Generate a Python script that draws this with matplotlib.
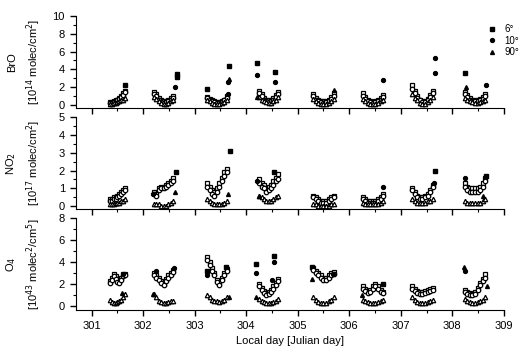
import matplotlib
matplotlib.use("Agg")
import matplotlib.pyplot as plt
from matplotlib.ticker import MultipleLocator

# sample times (local day) within each day's measurement window
t301 = [301.36, 301.40, 301.43, 301.47, 301.50, 301.54, 301.57, 301.61, 301.64]
t302 = [302.22, 302.26, 302.30, 302.35, 302.40, 302.44, 302.49, 302.54, 302.58]
t303 = [303.24, 303.29, 303.33, 303.38, 303.43, 303.48, 303.53, 303.58, 303.62]
t304 = [304.25, 304.30, 304.34, 304.39, 304.44, 304.48, 304.53, 304.58, 304.62]
t305 = [305.30, 305.35, 305.40, 305.45, 305.50, 305.55, 305.60, 305.65, 305.70]
t306 = [306.26, 306.31, 306.36, 306.41, 306.46, 306.51, 306.56, 306.61, 306.66]
t307 = [307.22, 307.27, 307.32, 307.37, 307.42, 307.47, 307.52, 307.57, 307.62]
t308 = [308.24, 308.29, 308.34, 308.39, 308.44, 308.49, 308.54, 308.59, 308.64]
times = t301 + t302 + t303 + t304 + t305 + t306 + t307 + t308

# BrO [1e14 molec/cm2]
bro_6 = [0.3, 0.3, 0.4, 0.5, 0.6, 0.8, 1.0, 1.3, 1.6,
         1.4, 1.2, 0.8, 0.5, 0.4, 0.4, 0.5, 0.8, 1.0,
         0.9, 0.7, 0.5, 0.4, 0.3, 0.3, 0.4, 0.6, 1.0,
         1.6, 1.2, 0.8, 0.6, 0.5, 0.6, 0.8, 1.1, 1.5,
         1.2, 0.8, 0.6, 0.4, 0.4, 0.4, 0.6, 0.9, 1.3,
         1.3, 0.9, 0.6, 0.4, 0.3, 0.4, 0.5, 0.8, 1.1,
         2.2, 1.6, 1.0, 0.6, 0.4, 0.4, 0.7, 1.1, 1.6,
         1.5, 1.1, 0.8, 0.6, 0.5, 0.6, 0.7, 0.9, 1.2]
bro_10 = [0.2, 0.2, 0.3, 0.4, 0.5, 0.7, 0.9, 1.1, 1.4,
          1.2, 1.0, 0.6, 0.3, 0.2, 0.3, 0.4, 0.6, 0.8,
          0.8, 0.6, 0.4, 0.3, 0.2, 0.2, 0.3, 0.5, 0.8,
          1.3, 1.0, 0.6, 0.4, 0.3, 0.4, 0.6, 0.9, 1.2,
          1.0, 0.6, 0.4, 0.3, 0.2, 0.3, 0.4, 0.7, 1.0,
          1.0, 0.7, 0.4, 0.3, 0.2, 0.3, 0.4, 0.6, 0.9,
          1.8, 1.3, 0.8, 0.5, 0.3, 0.3, 0.5, 0.9, 1.3,
          1.2, 0.9, 0.6, 0.4, 0.4, 0.4, 0.5, 0.7, 1.0]
bro_90 = [0.1, 0.1, 0.2, 0.2, 0.3, 0.4, 0.5, 0.6, 0.8,
          0.9, 0.7, 0.4, 0.2, 0.1, 0.1, 0.2, 0.4, 0.6,
          0.6, 0.4, 0.2, 0.1, 0.1, 0.1, 0.2, 0.3, 0.5,
          0.9, 0.6, 0.4, 0.3, 0.2, 0.2, 0.4, 0.6, 0.9,
          0.7, 0.4, 0.2, 0.1, 0.1, 0.1, 0.2, 0.4, 0.7,
          0.7, 0.4, 0.2, 0.1, 0.1, 0.1, 0.2, 0.4, 0.6,
          1.2, 0.8, 0.5, 0.2, 0.1, 0.1, 0.3, 0.5, 0.9,
          0.8, 0.6, 0.4, 0.3, 0.2, 0.2, 0.3, 0.4, 0.6]
bro_6_x_t = [301.65, 302.65, 302.65, 303.24, 303.66, 304.22, 304.56, 308.24]
bro_6_x_v = [2.2, 3.5, 3.1, 1.8, 4.4, 4.7, 3.7, 3.6]
bro_10_x_t = [302.62, 303.64, 303.65, 304.22, 304.56, 306.66, 307.66, 307.66, 308.66]
bro_10_x_v = [2.0, 1.2, 2.6, 3.4, 2.6, 2.8, 3.6, 5.3, 2.2]
bro_90_x_t = [303.66, 304.22, 305.70, 308.26]
bro_90_x_v = [2.9, 0.9, 1.7, 2.0]

# NO2 [1e17 molec/cm2]
no2_6 = [0.4, 0.4, 0.5, 0.5, 0.6, 0.7, 0.8, 0.9, 1.0,
         0.8, 0.7, 1.0, 1.1, 1.1, 1.2, 1.3, 1.4, 1.6,
         1.3, 1.1, 0.9, 0.8, 1.0, 1.3, 1.6, 1.9, 2.1,
         1.5, 1.3, 1.2, 1.0, 1.1, 1.2, 1.4, 1.6, 1.8,
         0.6, 0.5, 0.4, 0.3, 0.3, 0.3, 0.4, 0.5, 0.6,
         0.5, 0.4, 0.3, 0.3, 0.3, 0.3, 0.4, 0.5, 0.7,
         1.0, 0.8, 0.6, 0.5, 0.5, 0.6, 0.7, 0.9, 1.2,
         1.3, 1.1, 1.0, 1.0, 1.0, 1.0, 1.1, 1.3, 1.6]
no2_10 = [0.3, 0.3, 0.4, 0.4, 0.5, 0.6, 0.7, 0.8, 0.9,
          0.7, 0.6, 0.9, 1.0, 1.0, 1.1, 1.2, 1.3, 1.4,
          1.1, 0.9, 0.7, 0.6, 0.8, 1.1, 1.4, 1.7, 1.9,
          1.3, 1.1, 1.0, 0.8, 0.9, 1.0, 1.2, 1.4, 1.5,
          0.5, 0.4, 0.3, 0.2, 0.2, 0.2, 0.3, 0.4, 0.5,
          0.4, 0.3, 0.2, 0.2, 0.2, 0.2, 0.3, 0.4, 0.6,
          0.9, 0.7, 0.5, 0.4, 0.4, 0.5, 0.6, 0.8, 1.1,
          1.1, 0.9, 0.8, 0.8, 0.8, 0.8, 0.9, 1.1, 1.4]
no2_90 = [0.1, 0.1, 0.1, 0.2, 0.2, 0.2, 0.3, 0.3, 0.4,
          0.1, 0.1, 0.1, 0.0, 0.0, 0.0, 0.1, 0.2, 0.3,
          0.4, 0.3, 0.2, 0.1, 0.1, 0.1, 0.1, 0.2, 0.3,
          0.6, 0.5, 0.4, 0.3, 0.3, 0.3, 0.4, 0.5, 0.6,
          0.1, 0.1, 0.0, 0.0, 0.0, 0.0, 0.0, 0.1, 0.1,
          0.2, 0.1, 0.1, 0.1, 0.1, 0.1, 0.1, 0.2, 0.3,
          0.4, 0.3, 0.2, 0.2, 0.2, 0.2, 0.3, 0.3, 0.4,
          0.3, 0.2, 0.2, 0.2, 0.2, 0.2, 0.2, 0.3, 0.4]
no2_6_x_t = [302.63, 303.68, 304.55, 307.66, 308.65]
no2_6_x_v = [1.9, 3.1, 1.9, 2.0, 1.7]
no2_10_x_t = [302.20, 304.22, 306.65, 307.64, 308.24]
no2_10_x_v = [0.7, 1.4, 1.1, 1.3, 1.6]
no2_90_x_t = [302.62, 303.65, 304.25, 308.60]
no2_90_x_v = [0.8, 0.7, 0.6, 0.6]

# O4 [1e43 molec2/cm5]
o4_6 = [2.3, 2.6, 2.9, 2.7, 2.4, 2.3, 2.6, 2.9, 2.9,
        3.0, 2.8, 2.6, 2.3, 2.0, 2.5, 2.8, 3.0, 3.3,
        4.5, 4.0, 3.5, 3.0, 2.4, 2.1, 2.6, 3.0, 3.4,
        2.0, 1.7, 1.4, 1.2, 1.3, 1.5, 1.8, 2.1, 2.5,
        3.5, 3.2, 3.0, 2.8, 2.6, 2.6, 2.8, 3.0, 3.1,
        1.8, 1.6, 1.4, 1.5, 1.8, 2.0, 1.8, 1.5, 1.3,
        1.8, 1.6, 1.4, 1.3, 1.3, 1.4, 1.5, 1.6, 1.7,
        1.5, 1.3, 1.2, 1.1, 1.3, 1.7, 2.1, 2.5, 2.9]
o4_10 = [2.1, 2.4, 2.7, 2.5, 2.2, 2.1, 2.4, 2.7, 2.8,
         2.8, 2.6, 2.4, 2.1, 1.9, 2.3, 2.6, 2.8, 3.1,
         4.2, 3.7, 3.2, 2.8, 2.2, 1.9, 2.4, 2.8, 3.2,
         1.8, 1.5, 1.2, 1.0, 1.1, 1.3, 1.6, 1.9, 2.3,
         3.3, 3.0, 2.8, 2.6, 2.4, 2.4, 2.6, 2.8, 2.9,
         1.6, 1.4, 1.2, 1.3, 1.6, 1.8, 1.6, 1.3, 1.2,
         1.6, 1.4, 1.2, 1.1, 1.1, 1.2, 1.3, 1.4, 1.5,
         1.3, 1.1, 1.0, 1.0, 1.1, 1.5, 1.9, 2.3, 2.6]
o4_90 = [0.6, 0.4, 0.3, 0.3, 0.4, 0.5, 0.6, 0.8, 1.1,
         1.1, 0.8, 0.5, 0.4, 0.3, 0.3, 0.4, 0.5, 0.5,
         1.0, 0.8, 0.6, 0.5, 0.5, 0.4, 0.5, 0.6, 0.8,
         0.7, 0.5, 0.4, 0.3, 0.3, 0.3, 0.4, 0.5, 0.7,
         0.8, 0.6, 0.4, 0.3, 0.3, 0.3, 0.5, 0.6, 0.8,
         0.6, 0.5, 0.4, 0.3, 0.3, 0.3, 0.4, 0.5, 0.6,
         0.8, 0.6, 0.4, 0.3, 0.3, 0.3, 0.4, 0.5, 0.6,
         0.7, 0.5, 0.4, 0.3, 0.3, 0.4, 0.5, 0.6, 0.8]
o4_6_x_t = [303.25, 303.60, 304.20, 304.55, 305.28, 306.66]
o4_6_x_v = [3.2, 3.6, 3.8, 4.6, 3.6, 2.0]
o4_10_x_t = [301.62, 302.25, 302.60, 303.25, 304.20, 304.55, 304.50, 305.68, 308.25]
o4_10_x_v = [2.9, 3.2, 3.5, 2.8, 3.0, 4.0, 2.4, 2.9, 3.2]
o4_90_x_t = [301.60, 302.20, 303.66, 304.20, 305.28, 306.25, 308.22, 308.68]
o4_90_x_v = [1.2, 1.1, 0.8, 0.8, 2.5, 1.0, 3.6, 1.8]

angles = ["6°", "10°", "90°"]
markers = ["s", "o", "^"]

panels = [
    ("BrO\n[10$^{14}$ molec/cm$^2$]", (-0.35, 10), 2, 1,
     [(bro_6, bro_6_x_t, bro_6_x_v), (bro_10, bro_10_x_t, bro_10_x_v), (bro_90, bro_90_x_t, bro_90_x_v)]),
    ("NO$_2$\n[10$^{17}$ molec/cm$^2$]", (-0.17, 5), 1, 0.5,
     [(no2_6, no2_6_x_t, no2_6_x_v), (no2_10, no2_10_x_t, no2_10_x_v), (no2_90, no2_90_x_t, no2_90_x_v)]),
    ("O$_4$\n[10$^{43}$ molec$^2$/cm$^5$]", (-0.35, 8), 2, 1,
     [(o4_6, o4_6_x_t, o4_6_x_v), (o4_10, o4_10_x_t, o4_10_x_v), (o4_90, o4_90_x_t, o4_90_x_v)]),
]

plt.rcParams['font.family'] = ['Liberation Sans', 'DejaVu Sans']

fig = plt.figure(figsize=(5.21, 3.54), dpi=100)
tops = [0.955, 0.669, 0.384]
h = 0.26
axes = []
for i, (label, ylim, major, minor, series) in enumerate(panels):
    ax = fig.add_axes([0.146, tops[i] - h, 0.821, h])
    axes.append(ax)
    for (vals, xt, xv), m, name in zip(series, markers, angles):
        ax.plot(times, vals, linestyle="none", marker=m, ms=3.2, mfc="white", mec="black",
                mew=0.9, label=name)
        ax.plot(xt, xv, linestyle="none", marker=m, ms=2.8, color="black")
    ax.set_xlim(300.7, 309)
    ax.set_ylim(*ylim)
    ax.yaxis.set_major_locator(MultipleLocator(major))
    ax.yaxis.set_minor_locator(MultipleLocator(minor))
    ax.xaxis.set_major_locator(MultipleLocator(1))
    ax.xaxis.set_minor_locator(MultipleLocator(0.5))
    ax.spines["top"].set_visible(False)
    ax.spines["right"].set_visible(False)
    ax.tick_params(which="major", direction="out", length=4, width=1, labelsize=8)
    ax.tick_params(axis="y", which="major", pad=4)
    ax.tick_params(which="minor", direction="out", length=2, width=0.8)
    ax.set_ylabel(label, fontsize=8, linespacing=1.5)
    ax.yaxis.set_label_coords(-0.078, 0.5)
    if i < 2:
        ax.tick_params(axis="x", labelbottom=False)

axes[2].set_xlabel("Local day [Julian day]", fontsize=8)

handles = [plt.Line2D([], [], linestyle="none", marker=m, ms=2.8, color="black") for m in markers]
fig.legend(handles, angles, loc="upper left", bbox_to_anchor=(0.927, 0.945), frameon=False,
           fontsize=7, handlelength=0.8, handletextpad=0.9, labelspacing=0.15, borderpad=0)

fig.savefig("out.png", dpi=100)
